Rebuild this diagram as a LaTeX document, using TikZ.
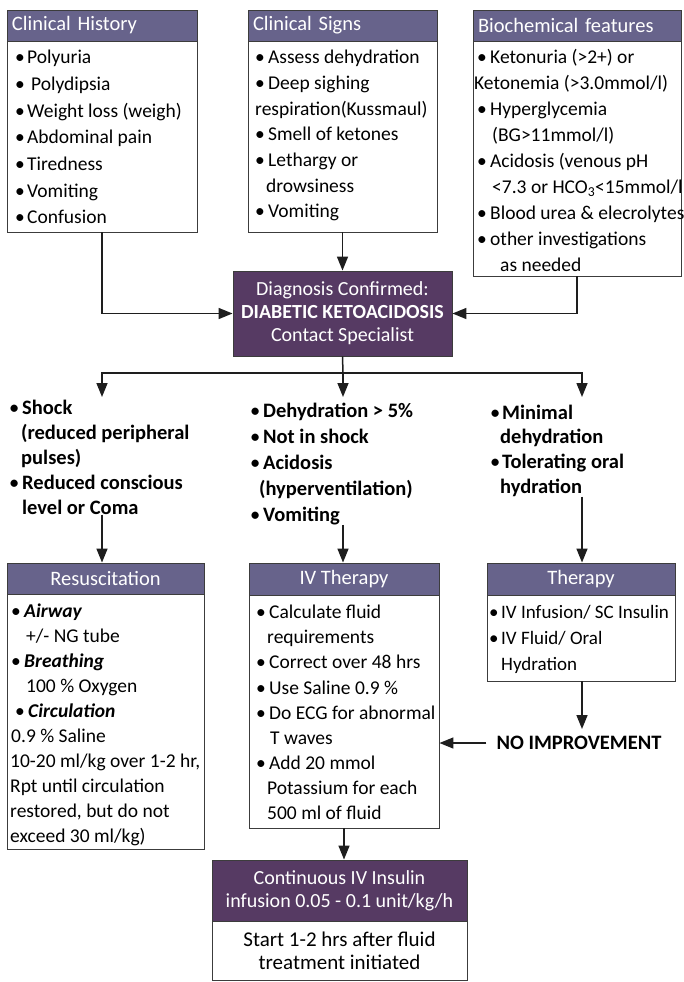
\documentclass[tikz,border=0pt]{standalone}
\usepackage{fontspec}
\setmainfont{Carlito}
\usetikzlibrary{arrows.meta,calc}
\definecolor{hdrc}{RGB}{103,99,139}
\definecolor{dkc}{RGB}{86,58,99}
\definecolor{bordc}{RGB}{60,60,60}
\definecolor{linec}{RGB}{30,30,30}
\newcommand\fz[2]{\fontsize{#1}{#2}\selectfont}
\newcommand\blt[1]{\makebox[#1pt][l]{\mdseries\upshape •}}
\newcommand\fst{\rule{0pt}{18pt}}
\newcommand\ind[1]{\hspace*{#1pt}}
\tikzset{
  hdr/.style={draw=bordc, fill=hdrc, text=white, line width=0.9pt, inner sep=0pt,
              minimum height=31pt, font=\fz{20.5}{24}},
  hdrl/.style={hdr, text width=180pt, inner xsep=5pt, align=left},
  dkbox/.style={draw=bordc, fill=dkc, text=white, line width=0.9pt, inner sep=0pt, align=center},
  bodyb/.style={draw=bordc, line width=0.9pt, inner sep=0pt, fill=white},
  lst/.style={anchor=north west, inner sep=0pt, align=left},
  ln/.style={line width=1.5pt, draw=linec},
  arr/.style={ln, -{Triangle[length=14pt,width=11pt]}},
}
\begin{document}
\begin{tikzpicture}[x=1pt,y=-1pt]
\useasboundingbox[fill=white] (0,0) rectangle (683,982);

% ---- top row ----
\node[hdrl, text width=180pt] (chh) at (102,25.5) {Clinical History};
\node[bodyb, minimum width=190pt, minimum height=191pt] (chb) at (102,136.5) {};
\node[lst, font=\fz{19.5}{26.67}] (chl) at (15,45.5) {\fst\blt{12}Polyuria\\
\blt{12}\ind{4}Polydipsia\\
\blt{12}Weight loss (weigh)\\
\blt{12}Abdominal pain\\
\blt{12}Tiredness\\
\blt{12}Vomiting\\
\blt{12}Confusion};

\node[hdrl, text width=179pt] (csh) at (342.5,25.5) {Clinical Signs};
\node[bodyb, minimum width=189pt, minimum height=191pt] (csb) at (342.5,136.5) {};
\node[lst, font=\fz{19.5}{25.67}] (csl) at (255,45.5) {\fst\blt{13}Assess dehydration\\
\blt{13}Deep sighing\\
respiration(Kussmaul)\\
\blt{13}Smell of ketones\\
\blt{13}Lethargy or\\
\ind{11}drowsiness\\
\blt{13}Vomiting};

\node[hdrl, text width=198pt] (bfh) at (577,25.5) {Biochemical features};
\node[bodyb, minimum width=208pt, minimum height=235pt] (bfb) at (577,158.5) {};
\node[lst, font=\fz{19.5}{26}] (bfl) at (477,45.5) {\fst\blt{13}Ketonuria (>2+) or\\
\ind{-3}Ketonemia (>3.0mmol/l)\\
\blt{13}Hyperglycemia\\
\ind{15}(BG>11mmol/l)\\
\blt{13}Acidosis (venous pH\\
\ind{15}<7.3 or HCO\textsubscript{3}<15mmol/l\\
\blt{13}Blood urea \& elecrolytes\\
\blt{13}other investigations\\
\ind{23}as needed};

% ---- diagnosis ----
\node[dkbox, minimum width=219pt, minimum height=85pt, font=\fz{20}{23}] (dx) at (342.5,313.5)
  {Diagnosis Confirmed:\\\textbf{DIABETIC KETOACIDOSIS}\\Contact Specialist};

\draw[arr] (chb.south) |- (dx.west);
\draw[arr] (csb.south) -- (dx.north);
\draw[arr] (bfb.south) |- (dx.east);

% ---- branching ----
\coordinate (br) at (343,373);
\coordinate (tl) at (102,397);
\coordinate (tm) at (343,397);
\coordinate (tr) at (582,397);
\draw[ln] (dx.south) -- (br);
\draw[arr] (br) -| (tl);
\draw[arr] (br) -| (tr);
\draw[arr] (br) -- (tm);

% ---- condition lists ----
\node[lst, font=\fz{20.5}{25}\bfseries] (shl) at (9,396) {\fst\blt{13}Shock\\
\ind{12}(reduced peripheral\\
\ind{12}pulses)\\
\blt{13}Reduced conscious\\
\ind{13}level or Coma};

\node[lst, font=\fz{20.5}{26}\bfseries] (dhl) at (250,399) {\fst\blt{13}Dehydration > 5\%\\
\blt{13}Not in shock\\
\blt{13}Acidosis\\
\ind{9}(hyperventilation)\\
\blt{13}Vomiting};

\node[lst, font=\fz{20.5}{24.7}\bfseries] (mnl) at (490,401) {\fst\blt{12}Minimal\\
\ind{10}dehydration\\
\blt{12}Tolerating oral\\
\ind{10}hydration};

% ---- therapy boxes ----
\node[hdr, minimum width=197pt, align=center] (rsh) at (105.5,578.5) {Resuscitation};
\node[bodyb, minimum width=197pt, minimum height=255pt] (rsb) at (105.5,721.5) {};
\node[lst, font=\fz{19.5}{25}] (rsl) at (10,599.5) {\fst\ind{1}\blt{13}\textbf{\textit{Airway}}\\
\ind{16}+/- NG tube\\
\ind{1}\blt{13}\textbf{\textit{Breathing}}\\
\ind{16}100 \% Oxygen\\
\ind{5}\blt{13}\textbf{\textit{Circulation}}\\
\ind{1}0.9 \% Saline\\
10-20 ml/kg over 1-2 hr,\\
Rpt until circulation\\
restored, but do not\\
exceed 30 ml/kg)};

\node[hdr, minimum width=190pt, minimum height=32pt, align=center] (ivh) at (344,579) {IV Therapy};
\node[bodyb, minimum width=190pt, minimum height=233pt] (ivb) at (344,711.5) {};
\node[lst, font=\fz{19.5}{25.1}] (ivl) at (256,600.5) {\fst\blt{13}Calculate fluid\\
\ind{11}requirements\\
\blt{13}Correct over 48 hrs\\
\blt{13}Use Saline 0.9 \%\\
\blt{13}Do ECG for abnormal\\
\ind{14}T waves\\
\blt{13}Add 20 mmol\\
\ind{11}Potassium for each\\
\ind{11}500 ml of fluid};

\node[hdr, minimum width=188pt, minimum height=32pt, align=center] (thh) at (581,579) {Therapy};
\node[bodyb, minimum width=188pt, minimum height=86pt] (thb) at (581,638) {};
\node[lst, font=\fz{19}{26}] (thl) at (489,600.5) {\fst\blt{12}IV Infusion/ SC Insulin\\
\blt{12}IV Fluid/ Oral\\
\ind{12}Hydration};

\draw[arr] (shl.south -| tl) -- (tl |- rsh.north);
\draw[arr] (dhl.south -| tm) -- (tm |- ivh.north);
\draw[arr] (mnl.south -| tr) -- (tr |- thh.north);

% ---- no improvement ----
\node[inner xsep=10pt, inner ysep=7pt, font=\fz{20.5}{24}\bfseries] (ni) at (579,743) {NO IMPROVEMENT};
\draw[arr] (thb.south -| tr) -- (tr |- ni.north);
\draw[arr] (ni.west) -- (ni.west -| ivb.east);

% ---- insulin ----
\node[dkbox, minimum width=255pt, minimum height=61pt, font=\fz{20}{23}] (inh) at (339.5,890.5)
  {Continuous IV Insulin\\infusion 0.05 - 0.1 unit/kg/h};
\node[bodyb, minimum width=255pt, minimum height=59pt, align=center, font=\fz{21}{23}] (inb) at (339.5,950.5)
  {Start 1-2 hrs after fluid\\treatment initiated};
\draw[arr] (ivb.south) -- (ivb.south |- inh.north);
\end{tikzpicture}
\end{document}
